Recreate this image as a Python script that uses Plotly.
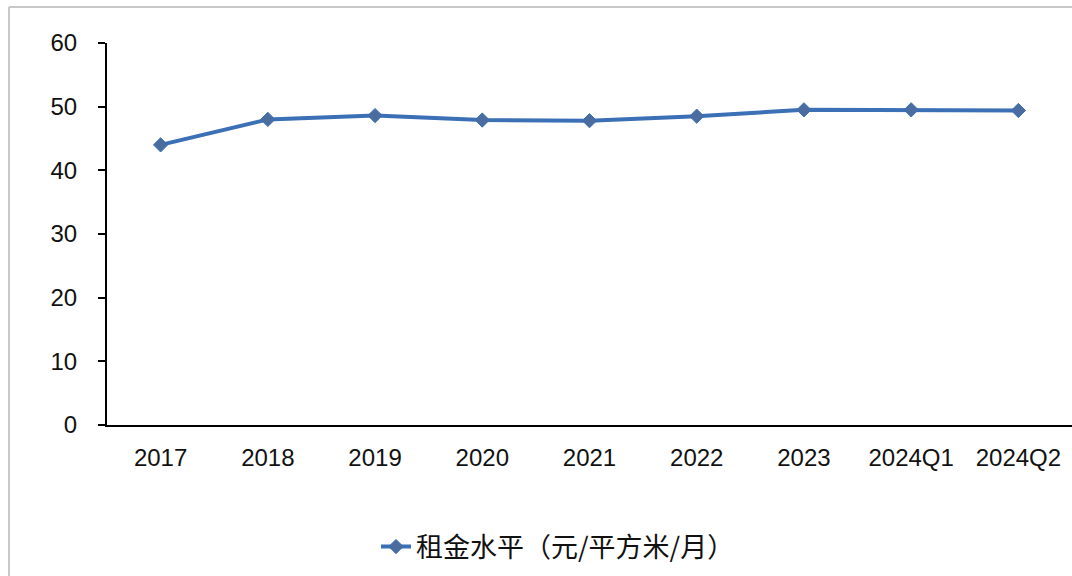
import plotly.graph_objects as go

categories = ["2017", "2018", "2019", "2020", "2021", "2022", "2023", "2024Q1", "2024Q2"]
rent_level = [44.0, 48.0, 48.6, 47.9, 47.8, 48.5, 49.5, 49.5, 49.4]
series_name = "租金水平（元/平方米/月）"
y_ticks = [0, 10, 20, 30, 40, 50, 60]

W, H = 1072, 576
ML, MT, MB, MR = 107, 43, 151, 0
pw = W - ML - MR
ph = H - MT - MB


def px_to_paper_x(px):
    return (px - ML) / pw


def px_to_paper_y(py):
    return (H - MB - py) / ph


fig = go.Figure()
fig.add_trace(go.Scatter(
    x=categories,
    y=rent_level,
    mode="lines+markers",
    name=series_name,
    line=dict(color="#3b6fb6", width=4),
    marker=dict(symbol="diamond", size=11, color="#4a6c9e",
                line=dict(color="#3b6fb6", width=1)),
))

# outer frame (left and top edges)
frame = dict(color="#c8c8c8", width=2)
fig.add_shape(type="line", xref="paper", yref="paper",
              x0=px_to_paper_x(9), x1=px_to_paper_x(9),
              y0=px_to_paper_y(7), y1=px_to_paper_y(580), line=frame)
fig.add_shape(type="line", xref="paper", yref="paper",
              x0=px_to_paper_x(9), x1=px_to_paper_x(1080),
              y0=px_to_paper_y(7), y1=px_to_paper_y(7), line=frame)

fig.update_layout(
    width=W, height=H,
    margin=dict(l=ML, r=MR, t=MT, b=MB),
    paper_bgcolor="white",
    plot_bgcolor="white",
    font=dict(family="Liberation Sans, Arial, sans-serif", size=24, color="#111111"),
    showlegend=True,
    legend=dict(
        orientation="h",
        x=px_to_paper_x(558), xanchor="center",
        y=px_to_paper_y(547), yanchor="middle",
        font=dict(family="Noto Sans CJK SC, sans-serif", size=27, color="#111111"),
        bgcolor="rgba(0,0,0,0)",
    ),
    xaxis=dict(
        type="category",
        showgrid=False,
        showline=True, linecolor="black", linewidth=2,
        ticks="", ticklabelstandoff=10,
        tickfont=dict(size=24),
        range=[-0.5, len(categories) - 0.5],
        zeroline=False,
    ),
    yaxis=dict(
        range=[0, 60],
        tickvals=y_ticks,
        showgrid=False,
        showline=True, linecolor="black", linewidth=2,
        ticks="outside", ticklen=7, tickwidth=2, tickcolor="black",
        ticklabelstandoff=16,
        tickfont=dict(size=24),
        zeroline=False,
    ),
)

fig.write_html("out.html")
